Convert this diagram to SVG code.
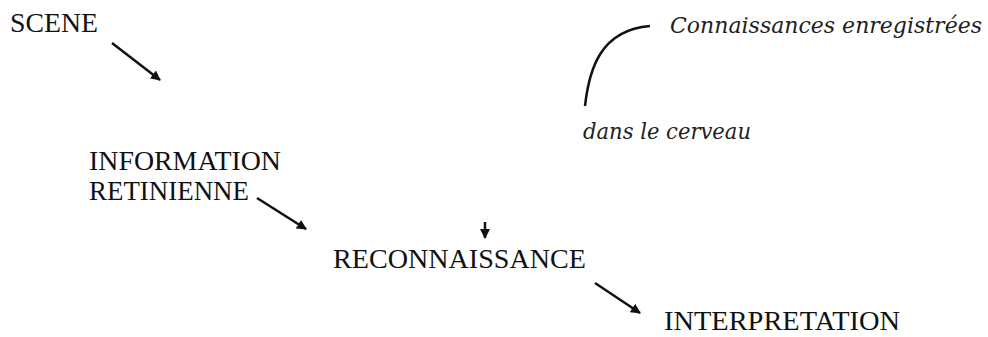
<svg xmlns="http://www.w3.org/2000/svg" width="988" height="337" viewBox="0 0 988 337">
<style>
.t{font-family:"Liberation Serif","Times New Roman",serif;font-size:27px;fill:#111;}
.i{font-family:"DejaVu Serif","Liberation Serif",serif;font-style:italic;font-size:22px;fill:#222;}
.c{stroke:#111;stroke-width:2.5;fill:none;}
</style>
<defs>
<marker id="ah" viewBox="0 0 10 10" refX="9" refY="5" markerWidth="4" markerHeight="4" orient="auto" markerUnits="strokeWidth">
<path d="M0,0 L10,5 L0,10 z" fill="#111"/>
</marker>
</defs>
<rect width="988" height="337" fill="#fff"/>
<g id="connectors">
<line class="c" x1="112" y1="43" x2="160" y2="80" marker-end="url(#ah)"/>
<line class="c" x1="257" y1="198" x2="306" y2="229" marker-end="url(#ah)"/>
<line class="c" x1="485" y1="222" x2="485" y2="238" stroke-width="1.5" marker-end="url(#ah)"/>
<line class="c" x1="595" y1="283" x2="640" y2="313" marker-end="url(#ah)"/>
<path class="c" stroke-width="2" d="M585,106 C589,70 600,30 650,26"/>
</g>
<g id="scene"><text class="t" x="10" y="32" textLength="88" lengthAdjust="spacingAndGlyphs">SCENE</text></g>
<g id="information">
<text class="t" x="89" y="170" textLength="192" lengthAdjust="spacingAndGlyphs">INFORMATION</text>
<text class="t" x="89" y="200" textLength="160" lengthAdjust="spacingAndGlyphs">RETINIENNE</text>
</g>
<g id="reconnaissance"><text class="t" x="333" y="268" textLength="253" lengthAdjust="spacingAndGlyphs">RECONNAISSANCE</text></g>
<g id="interpretation"><text class="t" x="664" y="330" textLength="236" lengthAdjust="spacingAndGlyphs">INTERPRETATION</text></g>
<g id="connaissances">
<text class="i" x="670" y="33" textLength="312" lengthAdjust="spacingAndGlyphs">Connaissances enregistrées</text>
<text class="i" x="583" y="139" textLength="168" lengthAdjust="spacingAndGlyphs">dans le cerveau</text>
</g>
</svg>
